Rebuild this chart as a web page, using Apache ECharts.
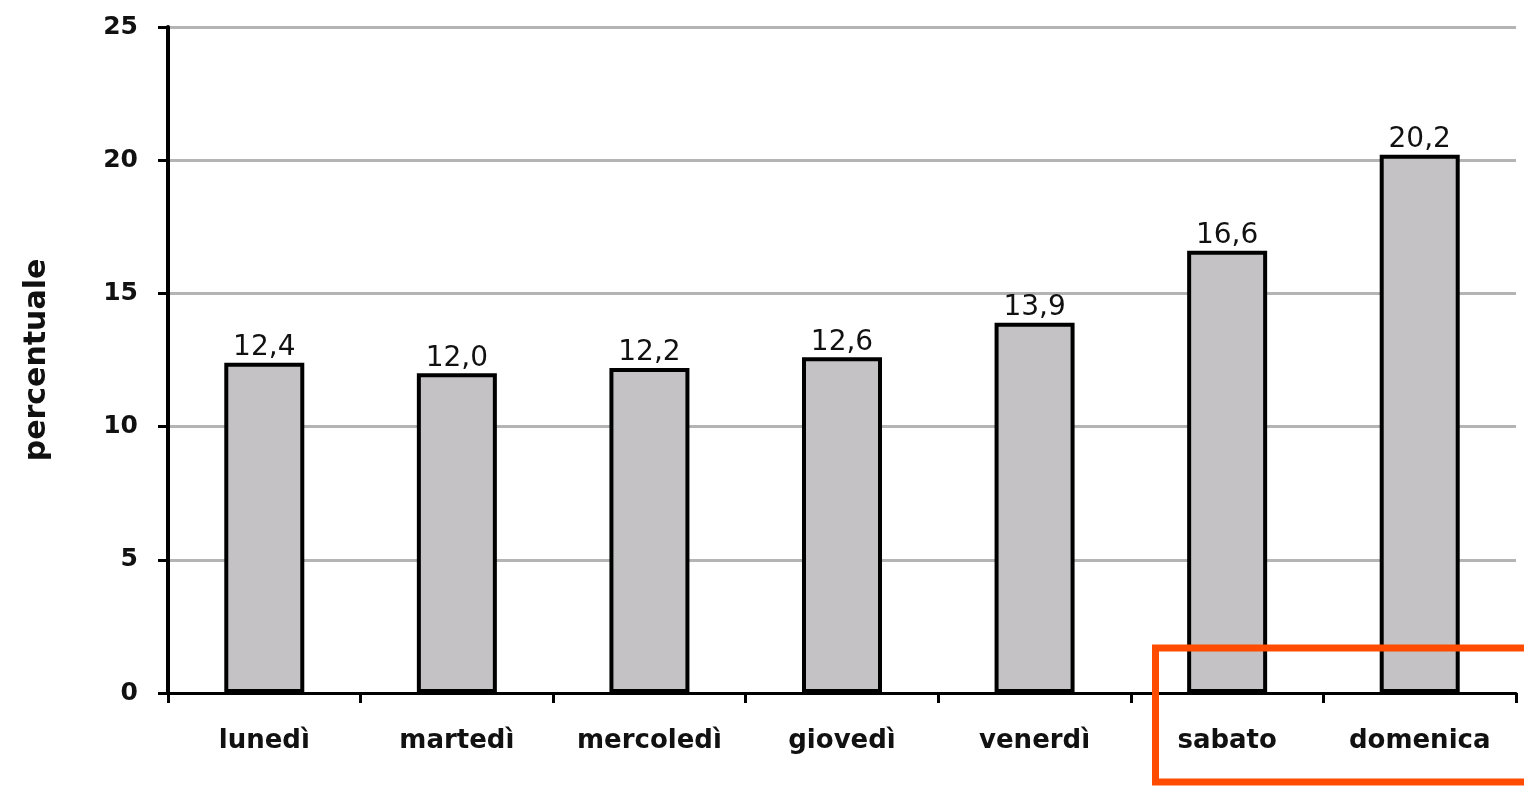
<!DOCTYPE html>
<html>
<head>
<meta charset="utf-8">
<title>percentuale per giorno</title>
<script src="https://cdn.jsdelivr.net/npm/echarts@6/dist/echarts.min.js"></script>
<style>
  html, body { margin: 0; padding: 0; background: #fff; }
  #main { width: 1524px; height: 787px; }
</style>
</head>
<body>
<div id="main"></div>
<script>
// dati
var giorni = ['lunedì', 'martedì', 'mercoledì', 'giovedì', 'venerdì', 'sabato', 'domenica'];
var percentuali = [12.4, 12.0, 12.2, 12.6, 13.9, 16.6, 20.2];
var yTicks = [0, 5, 10, 15, 20, 25];

var myChart = echarts.init(document.getElementById('main'));
myChart.setOption({
  animation: false,
  textStyle: { fontFamily: 'DejaVu Sans, Arial, sans-serif' },
  grid: { left: 168, right: 8, top: 27, bottom: 94 },
  xAxis: {
    type: 'category',
    data: giorni,
    boundaryGap: true,
    axisLine: { lineStyle: { color: '#000', width: 3 } },
    axisTick: { show: true, interval: 0, length: 10, lineStyle: { color: '#000', width: 3 } },
    axisLabel: {
      interval: 0,
      hideOverlap: false,
      color: '#111',
      fontSize: 26,
      fontWeight: 'bold',
      margin: 35
    }
  },
  yAxis: {
    type: 'value',
    min: yTicks[0],
    max: yTicks[yTicks.length - 1],
    interval: 5,
    name: 'percentuale',
    nameLocation: 'middle',
    nameGap: 116,
    nameRotate: 90,
    nameTextStyle: { color: '#111', fontSize: 30, fontWeight: 'bold' },
    axisLine: { show: true, lineStyle: { color: '#000', width: 4 } },
    axisTick: { show: true, length: 10, lineStyle: { color: '#000', width: 3 } },
    axisLabel: { color: '#111', fontSize: 25, fontWeight: 'bold', margin: 30 },
    splitLine: { lineStyle: { color: '#b4b4b4', width: 3 } }
  },
  series: [{
    type: 'bar',
    data: percentuali,
    barWidth: 80,
    itemStyle: { color: '#c4c2c5', borderColor: '#000', borderWidth: 4 },
    label: {
      show: true,
      position: 'top',
      distance: 1,
      color: '#111',
      fontSize: 28,
      formatter: function (p) { return p.value.toFixed(1).replace('.', ','); }
    }
  }],
  graphic: [{
    type: 'rect',
    shape: { x: 1155.5, y: 648, width: 400, height: 134 },
    style: { fill: 'none', stroke: '#ff4c00', lineWidth: 7 },
    z: 100
  }]
});
</script>
</body>
</html>
